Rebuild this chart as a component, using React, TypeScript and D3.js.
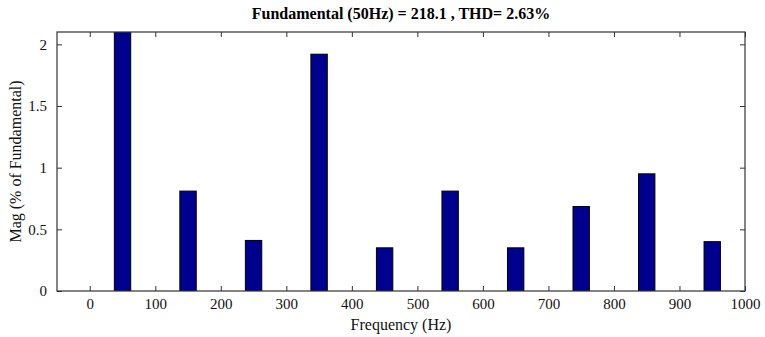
import React, { useEffect, useRef } from 'react';
import * as d3 from 'd3';

// harmonic frequencies (Hz) and magnitudes (% of fundamental)
const freqs = [50, 150, 250, 350, 450, 550, 650, 750, 850, 950];
const mags = [100, 0.81, 0.41, 1.92, 0.35, 0.81, 0.35, 0.685, 0.95, 0.4];
const xTicks = [0, 100, 200, 300, 400, 500, 600, 700, 800, 900, 1000];
const yTicks = [0, 0.5, 1, 1.5, 2];
const yTickLabels = ['0', '0.5', '1', '1.5', '2'];
const title = 'Fundamental (50Hz) = 218.1 , THD= 2.63%';

const App = () => {
  const ref = useRef<SVGSVGElement>(null);

  useEffect(() => {
    const svg = d3.select(ref.current);
    svg.selectAll('*').remove();

    const left = 57;
    const right = 745;
    const top = 32;
    const bottom = 291;
    const font = '"Liberation Serif", "Times New Roman", serif';

    const x = d3.scaleLinear().domain([-50, 1000]).range([left, right]);
    const y = d3.scaleLinear().domain([0, 2.1]).range([bottom, top]);
    const barW = x(25) - x(0);

    svg.append('defs').append('clipPath').attr('id', 'plot-clip')
      .append('rect')
      .attr('x', left).attr('y', top)
      .attr('width', right - left).attr('height', bottom - top);

    // bars
    svg.append('g')
      .attr('clip-path', 'url(#plot-clip)')
      .selectAll('rect')
      .data(freqs)
      .enter()
      .append('rect')
      .attr('x', (d) => x(d) - barW / 2)
      .attr('y', (d, i) => y(mags[i]))
      .attr('width', barW)
      .attr('height', (d, i) => bottom - y(mags[i]))
      .style('fill', '#00008f')
      .style('stroke', '#000')
      .style('stroke-width', 1);

    // axes box with inward ticks
    const axisColor = '#333';
    const xb = svg.append('g').attr('transform', `translate(0, ${bottom})`)
      .call(d3.axisBottom(x).tickValues(xTicks).tickSizeInner(-5).tickSizeOuter(0).tickPadding(7)
        .tickFormat(d3.format('d')));
    xb.select('.domain').remove();
    xb.selectAll('line').attr('stroke', axisColor);
    xb.selectAll('text').style('font-family', font).style('font-size', '15px').attr('fill', '#111');

    const xt = svg.append('g').attr('transform', `translate(0, ${top})`)
      .call(d3.axisTop(x).tickValues(xTicks).tickSizeInner(-5).tickSizeOuter(0).tickFormat(() => ''));
    xt.select('.domain').remove();
    xt.selectAll('line').attr('stroke', axisColor);

    const yl = svg.append('g').attr('transform', `translate(${left}, 0)`)
      .call(d3.axisLeft(y).tickValues(yTicks).tickSizeInner(-5).tickSizeOuter(0).tickPadding(10)
        .tickFormat((d, i) => yTickLabels[i]));
    yl.select('.domain').remove();
    yl.selectAll('line').attr('stroke', axisColor);
    yl.selectAll('text').style('font-family', font).style('font-size', '15px').attr('fill', '#111');

    const yr = svg.append('g').attr('transform', `translate(${right}, 0)`)
      .call(d3.axisRight(y).tickValues(yTicks).tickSizeInner(-5).tickSizeOuter(0).tickFormat(() => ''));
    yr.select('.domain').remove();
    yr.selectAll('line').attr('stroke', axisColor);

    svg.append('rect')
      .attr('x', left).attr('y', top)
      .attr('width', right - left).attr('height', bottom - top)
      .style('fill', 'none')
      .style('stroke', axisColor)
      .style('stroke-width', 1.2);

    // title and labels
    svg.append('text')
      .attr('x', (left + right) / 2)
      .attr('y', 19)
      .style('text-anchor', 'middle')
      .style('font-family', font)
      .style('font-weight', 'bold')
      .style('font-size', '16px')
      .text(title);

    svg.append('text')
      .attr('x', (left + right) / 2)
      .attr('y', 330)
      .style('text-anchor', 'middle')
      .style('font-family', font)
      .style('font-size', '16px')
      .attr('fill', '#111')
      .text('Frequency (Hz)');

    svg.append('text')
      .attr('transform', `translate(21, ${(top + bottom) / 2}) rotate(-90)`)
      .style('text-anchor', 'middle')
      .style('font-family', font)
      .style('font-size', '16px')
      .attr('fill', '#111')
      .text('Mag (% of Fundamental)');
  }, []);

  return (
    <svg ref={ref} width={765} height={337}
      style={{ position: 'absolute', left: 0, top: 0, background: '#fff' }} />
  );
};

export default App;
